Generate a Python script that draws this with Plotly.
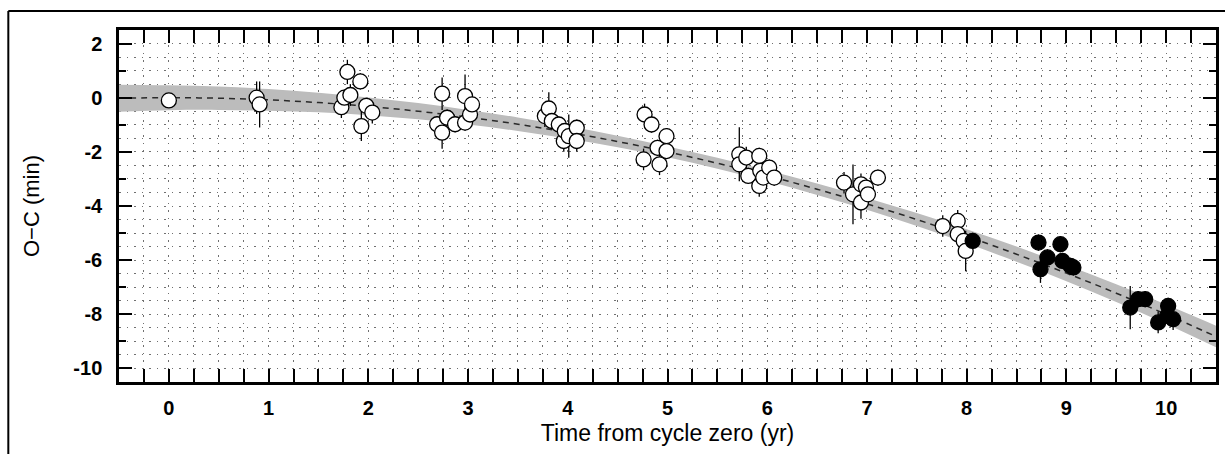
import plotly.graph_objects as go

# ---- data ----
fit_x = [-0.5, 0, 0.5, 1, 1.5, 2, 2.5, 3, 3.5, 4, 4.5, 5, 5.5, 6, 6.5, 7, 7.5, 8, 8.5, 9, 9.5, 10, 10.5]
fit_y = [-0.02, 0, -0.02, -0.08, -0.18, -0.32, -0.5, -0.72, -0.98, -1.28, -1.62, -2.0, -2.42,
         -2.88, -3.38, -3.92, -4.5, -5.12, -5.78, -6.48, -7.22, -8.0, -8.82]
fit_halfwidth = [0.5, 0.46, 0.43, 0.4, 0.36, 0.33, 0.3, 0.27, 0.25, 0.23, 0.21, 0.2, 0.2,
                 0.2, 0.21, 0.22, 0.24, 0.26, 0.28, 0.3, 0.33, 0.36, 0.4]

open_x = [0.0, 0.88, 0.91,
          1.73, 1.76, 1.79, 1.82, 1.92, 1.93, 1.98, 2.04,
          2.69, 2.74, 2.74, 2.79, 2.87, 2.97, 2.97, 3.02, 3.04,
          3.77, 3.81, 3.84, 3.91, 3.96, 3.97, 4.01, 4.09, 4.09,
          4.76, 4.77, 4.84, 4.90, 4.92, 4.99, 4.99,
          5.72, 5.72, 5.79, 5.81, 5.92, 5.92, 5.93, 5.96, 6.02, 6.07,
          6.77, 6.86, 6.94, 6.94, 6.99, 7.01, 7.11,
          7.76, 7.91, 7.91, 7.97, 7.99]
open_y = [-0.1, 0.0, -0.25,
          -0.35, 0.0, 0.95, 0.1, 0.6, -1.05, -0.3, -0.55,
          -0.98, 0.15, -1.29, -0.74, -0.98, 0.06, -0.92, -0.62, -0.25,
          -0.68, -0.4, -0.86, -0.99, -1.6, -1.23, -1.42, -1.11, -1.6,
          -2.28, -0.62, -0.99, -1.85, -2.46, -1.42, -1.97,
          -2.09, -2.46, -2.21, -2.89, -2.15, -3.26, -2.7, -2.95, -2.58, -2.95,
          -3.14, -3.57, -3.2, -3.87, -3.32, -3.57, -2.95,
          -4.74, -4.55, -5.04, -5.29, -5.66]
open_err = [0.2, 0.6, 0.85,
            0.4, 0.3, 0.45, 0.4, 0.3, 0.55, 0.3, 0.4,
            0.3, 0.6, 0.6, 0.3, 0.3, 0.8, 0.3, 0.3, 0.4,
            0.4, 0.6, 0.3, 0.3, 0.4, 0.3, 0.8, 0.3, 0.4,
            0.4, 0.4, 0.3, 0.3, 0.4, 0.3, 0.3,
            1.0, 0.3, 0.4, 0.3, 0.3, 0.4, 0.3, 0.3, 0.3, 0.3,
            0.4, 1.1, 0.4, 0.6, 0.3, 0.3, 0.3,
            0.4, 0.4, 0.3, 0.3, 0.75]

filled_x = [8.06, 8.72, 8.74, 8.81, 8.94, 8.96, 9.04, 9.07,
            9.64, 9.72, 9.79, 9.92, 10.01, 10.02, 10.07]
filled_y = [-5.29, -5.35, -6.34, -5.9, -5.41, -6.03, -6.21, -6.27,
            -7.75, -7.44, -7.44, -8.3, -8.06, -7.69, -8.18]
filled_err = [0.3, 0.3, 0.5, 0.3, 0.3, 0.3, 0.3, 0.3,
              0.8, 0.3, 0.3, 0.4, 0.3, 0.3, 0.4]

x_ticks = list(range(0, 11))
y_ticks = [2, 0, -2, -4, -6, -8, -10]

FONT = "Liberation Sans, Arial, sans-serif"

fig = go.Figure()

# uncertainty band
band_upper = [y + h for y, h in zip(fit_y, fit_halfwidth)]
band_lower = [y - h for y, h in zip(fit_y, fit_halfwidth)]
fig.add_trace(go.Scatter(x=fit_x, y=band_upper, mode="lines", line=dict(width=0, shape="spline"),
                         hoverinfo="skip", showlegend=False))
fig.add_trace(go.Scatter(x=fit_x, y=band_lower, mode="lines", line=dict(width=0, shape="spline"),
                         fill="tonexty", fillcolor="#bcbcbc",
                         hoverinfo="skip", showlegend=False))
# fit line
fig.add_trace(go.Scatter(x=fit_x, y=fit_y, mode="lines",
                         line=dict(color="#2a2a2a", width=1.5, dash="6px,5px", shape="spline"),
                         showlegend=False))

fig.add_trace(go.Scatter(x=open_x, y=open_y, mode="markers",
                         error_y=dict(type="data", array=open_err, color="black", thickness=1.3, width=0),
                         marker=dict(symbol="circle", size=15, color="white",
                                     line=dict(color="black", width=1.3)),
                         showlegend=False))
fig.add_trace(go.Scatter(x=filled_x, y=filled_y, mode="markers",
                         error_y=dict(type="data", array=filled_err, color="black", thickness=1.3, width=0),
                         marker=dict(symbol="circle", size=15, color="black",
                                     line=dict(color="black", width=1.3)),
                         showlegend=False))

# overlay axis used only for the half-unit horizontal grid
fig.add_trace(go.Scatter(x=[None], y=[None], yaxis="y2", showlegend=False))

grid_col = "#707070"
grid_dash = "1.5px,6px"
fig.update_layout(
    width=1225, height=454,
    margin=dict(l=119, r=6, t=30, b=72),
    paper_bgcolor="white", plot_bgcolor="white",
    font=dict(family=FONT, color="black"),
    xaxis=dict(range=[-0.5, 10.5], tickvals=x_ticks, ticktext=["<b>%d</b>" % v for v in x_ticks],
               ticks="inside", ticklen=13, tickwidth=2, tickcolor="black",
               showline=True, linewidth=2.5, linecolor="black", mirror="allticks",
               showgrid=True, gridcolor=grid_col, griddash=grid_dash, gridwidth=1,
               zeroline=False, ticklabelstandoff=6,
               minor=dict(dtick=0.25, tick0=0, ticks="inside", ticklen=7, tickwidth=1.5,
                          tickcolor="black", showgrid=True, gridcolor=grid_col,
                          griddash=grid_dash, gridwidth=1),
               tickfont=dict(size=20, family=FONT),
               title=dict(text="Time from cycle zero (yr)", font=dict(size=23, family=FONT), standoff=8)),
    yaxis=dict(range=[-10.5, 2.5], tickvals=y_ticks, ticktext=["<b>%d</b>" % v for v in y_ticks],
               ticks="inside", ticklen=13, tickwidth=2, tickcolor="black",
               showline=True, linewidth=2.5, linecolor="black", mirror="allticks",
               showgrid=False, zeroline=False, ticklabelstandoff=10,
               minor=dict(dtick=1, tick0=0, ticks="inside", ticklen=7, tickwidth=1.5,
                          tickcolor="black", showgrid=False),
               tickfont=dict(size=20, family=FONT),
               title=dict(text="O\u2212C (min)", font=dict(size=22, family=FONT), standoff=28)),
    yaxis2=dict(range=[-10.5, 2.5], overlaying="y", side="right", showticklabels=False,
                ticks="", showline=False, zeroline=False, dtick=0.5, tick0=0,
                showgrid=True, gridcolor=grid_col, griddash=grid_dash, gridwidth=1),
)

# outer frame around the figure
fig.add_shape(type="line", xref="paper", yref="paper", x0=-0.1009, x1=1.02, y0=1.054, y1=1.054,
              line=dict(color="black", width=2))
fig.add_shape(type="line", xref="paper", yref="paper", x0=-0.1009, x1=-0.1009, y0=1.054, y1=-0.3,
              line=dict(color="black", width=2))

fig.write_html("out.html")
